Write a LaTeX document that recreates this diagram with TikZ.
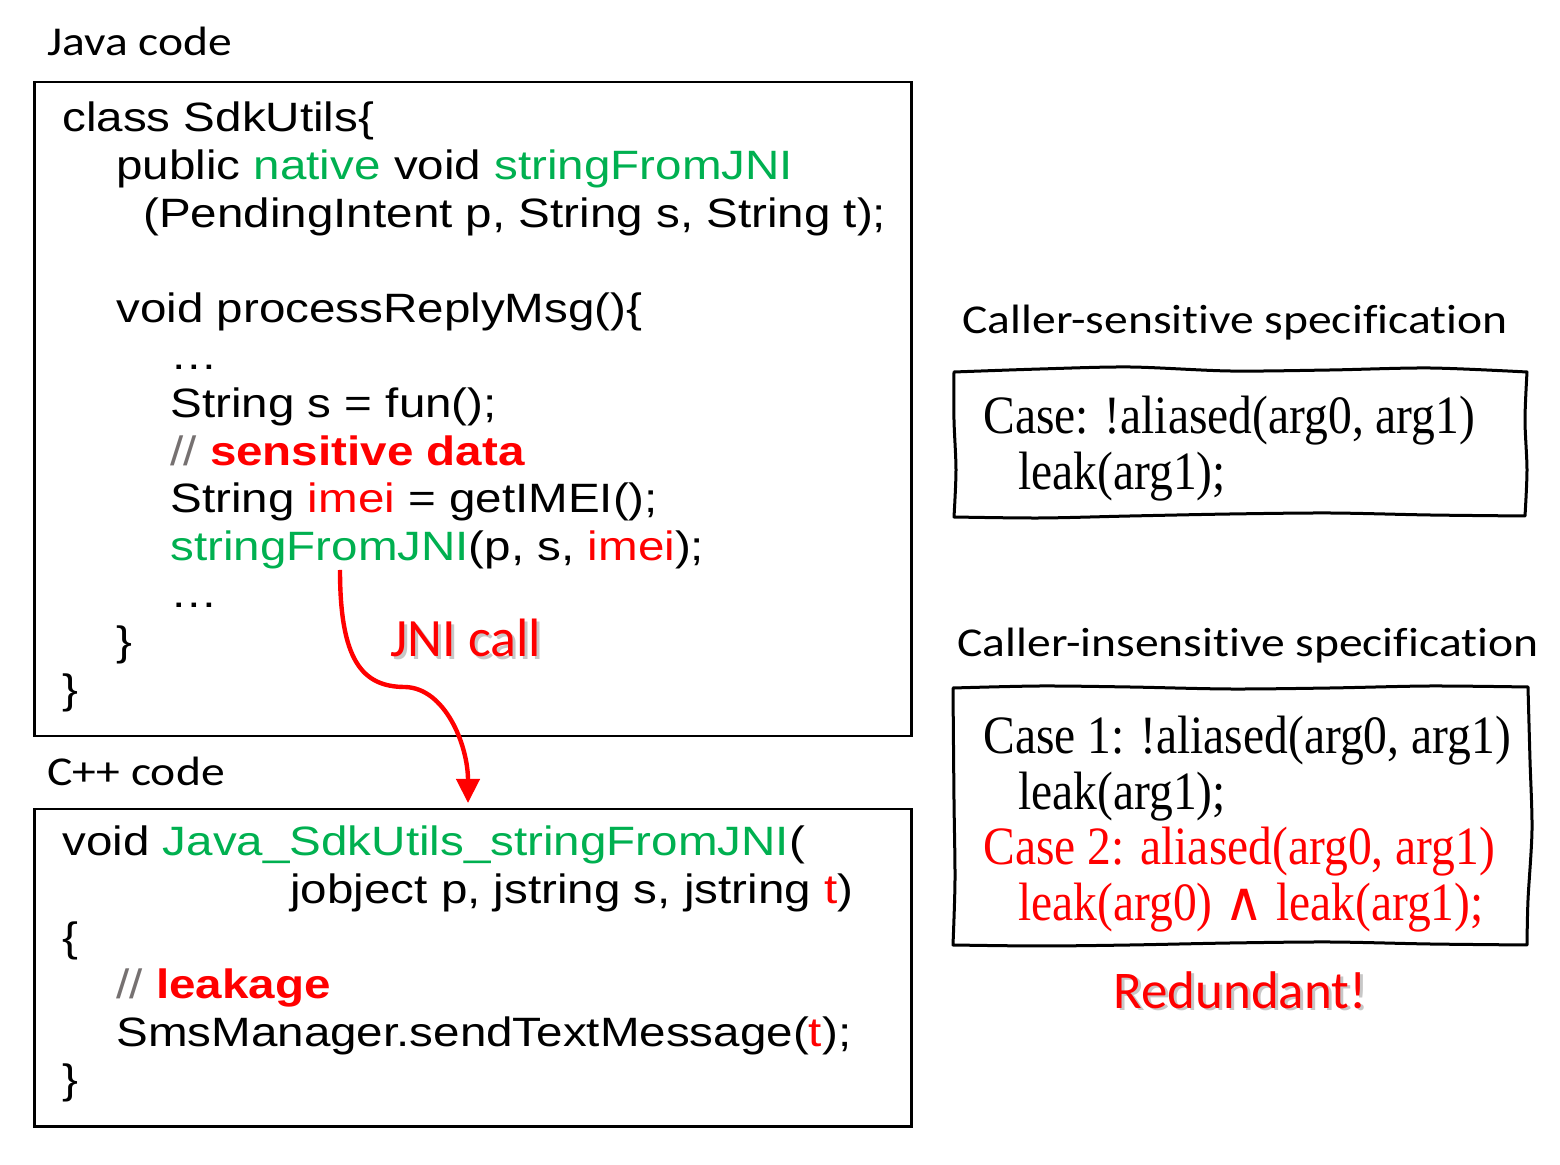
\documentclass[tikz,border=0pt]{standalone}
\usepackage{fontspec}
\usetikzlibrary{arrows.meta}
\newfontfamily\codefam{Liberation Sans}[FakeStretch=1.16]
\newfontfamily\labelfam{Carlito}[FakeStretch=1.16, Ligatures=NoCommon]
\newfontfamily\specfam{Liberation Serif}[FakeStretch=0.88]
\newfontfamily\wedgefam{DejaVu Sans}
\newfontfamily\artfam{Carlito}[Ligatures=NoCommon]
\definecolor{codegreen}{RGB}{0,176,80}
\definecolor{codered}{RGB}{255,0,0}
\definecolor{commentgray}{RGB}{118,113,113}
\newcommand{\kw}[1]{\textcolor{codegreen}{#1}}
\newcommand{\hot}[1]{\textcolor{codered}{#1}}
\newcommand{\cmt}[1]{\textcolor{commentgray}{//} \textcolor{codered}{\bfseries #1}}
\tikzset{
  codebox/.style={draw=black, line width=1.25pt, anchor=north west, inner sep=0pt},
  codeline/.style={anchor=base west, inner sep=0pt, font=\codefam\fontsize{20.5}{24}\selectfont},
  caption/.style={anchor=base west, inner sep=0pt, font=\labelfam\fontsize{20.5}{24}\selectfont},
  specline/.style={anchor=base west, inner sep=0pt, text height=18pt, text depth=4pt,
    font=\specfam\fontsize{27}{28}\selectfont},
  specbox/.style={line width=1.5pt, line cap=round, line join=round},
  wordart/.style={anchor=base west, inner sep=0pt, font=\artfam\fontsize{27}{27}\selectfont, text=codered},
  wordshade/.style={wordart, text=black, opacity=0.22},
  jniarrow/.style={-{Triangle[length=12pt, width=11.5pt]}, line width=2.2pt, codered}
}
\begin{document}
\begin{tikzpicture}[x=0.5pt, y=-0.5pt]
  \useasboundingbox (0,0) rectangle (1560,1165);

  % Java side
  \node[caption] (javacap) at (47,56) {Java code};
  \node[codebox, minimum width=438.5pt, minimum height=327pt] (java) at (33,81) {};
  \node[codeline] (j0) at (62,132) {class SdkUtils\{};
  \node[codeline] (j1) at (116,179.6) {public \kw{native} void \kw{stringFromJNI}};
  \node[codeline] (j2) at (143,227.2) {(PendingIntent p, String s, String t);};
  \node[codeline] (j4) at (116,322.4) {void processReplyMsg()\{};
  \node[codeline] (j5) at (170,370) {…};
  \node[codeline] (j6) at (170,417.6) {String s = fun();};
  \node[codeline] (j7) at (170,465.2) {\cmt{sensitive data}};
  \node[codeline] (j8) at (170,512.8) {String \hot{imei} = getIMEI();};
  \node[codeline] (j9) at (170,560.4) {\kw{stringFromJNI}(p, s, \hot{imei});};
  \node[codeline] (j10) at (170,608) {…};
  \node[codeline] (j11) at (116,655.6) {\}};
  \node[codeline] (j12) at (62,703.2) {\}};

  % C++ side
  \node[caption] (cppcap) at (47,786) {C++ code};
  \node[codebox, minimum width=438.5pt, minimum height=158.5pt] (cpp) at (33,808) {};
  \node[codeline] (c0) at (62,856) {void \kw{Java\_SdkUtils\_stringFromJNI}(};
  \node[codeline] (c1) at (290,903.6) {jobject p, jstring s, jstring \hot{t})};
  \node[codeline] (c2) at (62,951.2) {\{};
  \node[codeline] (c3) at (116,998.8) {\cmt{leakage}};
  \node[codeline] (c4) at (116,1046.4) {SmsManager.sendTextMessage(\hot{t});};
  \node[codeline] (c5) at (62,1094) {\}};

  % JNI call
  \coordinate (jnisrc) at (340,570);
  \coordinate (jnidst) at (468,803);
  \draw[jniarrow] (jnisrc) .. controls (340,660) and (362,687) .. (405,687)
    .. controls (445,688) and (468,745) .. (jnidst);
  \node[wordshade] (jnishade) at (393,660) {JNI call};
  \node[wordart] (jnilabel) at (390,657) {JNI call};

  % caller-sensitive spec
  \node[caption] (senscap) at (962,334) {Caller-sensitive specification};
  \draw[specbox] plot[smooth] coordinates {(954,372) (1040,369) (1130,367) (1230,371) (1330,370) (1430,368) (1527,372)}
    -- plot[smooth] coordinates {(1527,372) (1525,420) (1527,470) (1525,516)}
    -- plot[smooth] coordinates {(1525,516) (1430,515) (1330,513) (1230,514) (1130,516) (1040,518) (954,517)}
    -- plot[smooth] coordinates {(954,517) (956,470) (954,420) (954,372)};
  \node[specline] (s0) at (983,434) {Case: !aliased(arg0, arg1)};
  \node[specline] (s1) at (1018,489.5) {leak(arg1);};

  % caller-insensitive spec
  \node[caption] (inscap) at (957,657) {Caller-insensitive specification};
  \draw[specbox] plot[smooth] coordinates {(953,688) (1040,686) (1130,687) (1230,689) (1330,688) (1430,686) (1528,687)}
    -- plot[smooth] coordinates {(1528,687) (1530,760) (1532,830) (1528,900) (1527,945)}
    -- plot[smooth] coordinates {(1527,945) (1430,944) (1330,942) (1230,943) (1130,945) (1040,946) (953,945)}
    -- plot[smooth] coordinates {(953,945) (955,880) (954,800) (953,688)};
  \node[specline] (i0) at (983,754) {Case 1: !aliased(arg0, arg1)};
  \node[specline] (i1) at (1018,809.5) {leak(arg1);};
  \node[specline, text=codered] (i2) at (983,865) {Case 2: aliased(arg0, arg1)};
  \node[specline, text=codered] (i3) at (1018,920.5) {leak(arg0) {\wedgefam ∧} leak(arg1);};

  \node[wordshade, font=\artfam\fontsize{26.5}{27}\selectfont] (redshade) at (1116,1011) {Redundant!};
  \node[wordart, font=\artfam\fontsize{26.5}{27}\selectfont] (redundant) at (1113,1008) {Redundant!};
\end{tikzpicture}
\end{document}
